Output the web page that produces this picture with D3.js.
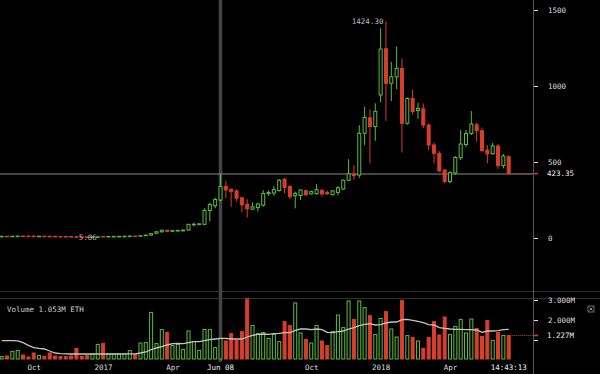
<!DOCTYPE html>
<html><head><meta charset="utf-8">
<script src="https://cdn.jsdelivr.net/npm/d3@7/dist/d3.min.js"></script>
<style>html,body{margin:0;padding:0;background:#000;overflow:hidden}</style>
</head><body><svg id="c" width="600" height="374"></svg>
<script>
// Weekly ETH candles (index 0 = first week shown)
const opens  = [10.9,11.4,11.1,12.0,12.8,12.6,12.4,12.0,12.1,11.5,11.0,10.6,10.2,9.7,8.9,7.9,7.8,7.4,7.6,10.5,9.8,10.6,10.7,11.3,11.6,12.9,12.6,15.3,19.2,31,41,51,44,48,47,52,87,89,90,181,212,250,340,320,310,264,222,190,200,216,292,296,312,386,338,278,280,311,290,292,314,300,285,300,322,380,421,414,689,790,733,941,1245,1018,1060,1115,755,918,838,850,743,612,557,447,372,428,528,615,688,745,706,578,555,605,476,535];
const highs  = [11.6,12.4,12.5,13.0,13.3,13.2,13.4,12.4,12.2,11.9,11.2,10.9,10.3,9.9,9.0,8.5,8.3,7.9,8.3,11.2,10.8,11.0,11.4,12.0,13.2,13.1,15.6,19.5,30,44,55,53,50,52,55,92,101,97,195,232,265,418,377,327,320,272,255,235,232,316,312,342,388,395,349,305,320,316,312,355,320,312,315,342,385,518,480,743,864,847,886,1380,1424.3,1158,1260,1180,925,978,890,886,754,627,570,454,440,540,710,710,835,758,728,612,625,618,553,545];
const lows   = [10.6,11.0,11.0,11.8,12.4,12.2,11.8,11.7,11.2,10.8,10.4,10.0,9.4,8.6,7.4,7.4,7.2,6.9,5.86,8.0,9.5,10.2,10.5,11.0,11.4,12.3,12.4,15.0,18,28,35,40,40,44,44,50,78,84,84,110,196,240,262,206,240,170,135,185,175,206,278,278,305,294,256,195,250,280,287,285,272,285,280,283,318,375,382,395,612,491,640,893,770,901,980,562,745,810,783,722,579,491,437,360,360,415,513,600,678,634,569,491,547,454,458,420];
const closes = [11.4,11.1,12.0,12.8,12.6,12.4,12.0,12.1,11.5,11.0,10.6,10.2,9.7,8.9,7.7,7.8,7.4,7.6,8.1,9.8,10.6,10.7,11.3,11.6,12.9,12.6,15.3,19.2,28.5,41,51,44,48,50,52,90,91,93,182,220,253,338,316,305,262,218,192,205,224,293,300,318,380,333,272,294,316,284,305,318,290,290,310,330,380,423,410,689,794,733,833,1243,1018,1061,1117,755,918,832,853,743,612,557,441,372,430,530,618,688,750,706,574,553,605,476,539,423.35];
// Weekly volume (millions) and its moving average
const volumes = [0.17,0.2,0.43,0.48,0.25,0.15,0.35,0.23,0.18,0.35,0.2,0.17,0.17,0.2,0.58,0.18,0.22,0.3,0.78,0.83,0.3,0.3,0.3,0.3,0.47,0.28,0.85,0.87,2.38,0.82,1.52,1.38,0.73,0.78,0.53,1.45,0.93,0.48,1.53,1.52,0.62,1.07,0.95,1.32,0.98,1.42,3.05,1.73,1.32,1.37,1.08,1.28,0.92,1.92,1.72,2.85,1.35,1.03,0.85,1.73,0.95,0.72,1.42,2.25,1.62,2.95,2.03,2.95,2.62,2.22,1.28,2.08,2.42,1.55,1.15,2.98,1.22,1.13,0.95,0.58,1.12,1.92,1.25,2.15,1.27,1.68,2.03,1.35,2.05,1.57,1.18,1.98,0.98,1.37,1.23,1.227];
const volumeMA = [0.97,0.97,0.97,0.96,0.87,0.73,0.62,0.58,0.55,0.45,0.35,0.32,0.31,0.3,0.3,0.3,0.3,0.3,0.3,0.3,0.3,0.3,0.3,0.31,0.31,0.31,0.35,0.4,0.52,0.6,0.67,0.75,0.82,0.83,0.82,0.87,0.92,0.92,0.97,1.02,1.05,1.08,1.08,1.05,1.05,1.05,1.15,1.23,1.28,1.3,1.28,1.32,1.33,1.37,1.37,1.48,1.55,1.55,1.52,1.55,1.52,1.38,1.37,1.42,1.45,1.55,1.62,1.72,1.78,1.82,1.75,1.77,1.85,1.9,1.9,2.02,2.03,1.98,1.93,1.87,1.77,1.75,1.62,1.58,1.55,1.53,1.53,1.52,1.52,1.5,1.38,1.45,1.45,1.47,1.52,1.53];
// Axis ticks
const xTickIdx = [6,19,32,58,71,84];
const xTickLabels = ["Oct","2017","Apr","Oct","2018","Apr"];
const priceTicks = [0,500,1000,1500];
const volTicks = [1,2,3];
const volTickLabels = ["","2.000M","3.000M"];
const crossIdx = 41, crossLabel = "Jun 08", crossPrice = 421;
const timeLabel = "14:43:13";
const volumeTitle = "Volume 1.053M ETH";
const lastVolLabel = "1.227M";

const W=600,H=374, AX=533;
const green="#5cbd3a", red="#d63f2c";
const FONT="'DejaVu Sans Mono', monospace";
const svg=d3.select("#c");
svg.append("rect").attr("width",W).attr("height",H).attr("fill","#000");

const n=opens.length;
const x=d3.scaleLinear().domain([0,n-1]).range([1.7,508.7]);
const y=d3.scaleLinear().domain([0,1500]).range([238,10]);
const yv=d3.scaleLinear().domain([0,3]).range([360,300]);
const idx=d3.range(n);
const up=i=>closes[i]>=opens[i];

// panel separators
svg.selectAll("line.sep").data([291.5,298.5]).join("line").attr("class","sep")
  .attr("x1",0).attr("x2",W).attr("y1",d=>d).attr("y2",d=>d)
  .attr("stroke","#303030").attr("stroke-width",1);

// crosshair
svg.append("line").attr("x1",x(crossIdx)).attr("x2",x(crossIdx)).attr("y1",0).attr("y2",362)
  .attr("stroke","#444").attr("stroke-width",3.5);
svg.append("line").attr("x1",0).attr("x2",AX).attr("y1",y(crossPrice)).attr("y2",y(crossPrice))
  .attr("stroke","#8a8a8a").attr("stroke-width",1.2);

// candles
const bw=3;
const cg=svg.append("g");
cg.selectAll("line.wick").data(idx).join("line").attr("class","wick")
  .attr("x1",i=>x(i)).attr("x2",i=>x(i)).attr("y1",i=>y(highs[i])).attr("y2",i=>y(lows[i]))
  .attr("stroke",i=>up(i)?green:red).attr("stroke-width",1);
cg.selectAll("rect.body").data(idx).join("rect").attr("class","body")
  .attr("x",i=>x(i)-bw/2).attr("width",bw)
  .attr("y",i=>Math.min(y(opens[i]),y(closes[i])))
  .attr("height",i=>Math.max(0.6,Math.abs(y(opens[i])-y(closes[i]))))
  .attr("fill",i=>up(i)?"#000":red).attr("stroke",i=>up(i)?green:red).attr("stroke-width",1);

// last price dotted line
svg.append("line").attr("x1",x(n-1)+3).attr("x2",AX).attr("y1",y(closes[n-1])).attr("y2",y(closes[n-1]))
  .attr("stroke",red).attr("stroke-width",1).attr("stroke-dasharray","1,1");

// high / low labels
const hiI=d3.maxIndex(highs), loI=d3.minIndex(lows);
svg.append("text").attr("x",x(hiI)-2.5).attr("y",y(highs[hiI])).attr("dy","0.35em")
  .attr("text-anchor","end").attr("fill","#bbb").attr("font-family",FONT).attr("font-size",7.5)
  .text(d3.format(".2f")(highs[hiI]));
svg.append("text").attr("x",x(loI)-1).attr("y",y(lows[loI])).attr("dy","0.35em")
  .attr("text-anchor","end").attr("fill","#aaa").attr("font-family",FONT).attr("font-size",7.5)
  .text(d3.format(".2f")(lows[loI]));

// volume bars
const vg=svg.append("g");
vg.selectAll("rect").data(idx).join("rect")
  .attr("x",i=>x(i)-bw/2).attr("width",bw)
  .attr("y",i=>yv(volumes[i])).attr("height",i=>yv(0)-1-yv(volumes[i]))
  .attr("fill",i=>up(i)?"#000":red).attr("stroke",i=>up(i)?green:red).attr("stroke-width",1);
svg.append("path").datum(idx)
  .attr("d",d3.line().x(i=>x(i)).y(i=>yv(volumeMA[i])))
  .attr("fill","none").attr("stroke","#c4c4c4").attr("stroke-width",1.3);
svg.append("line").attr("x1",x(n-1)+3).attr("x2",AX).attr("y1",yv(volumes[n-1])).attr("y2",yv(volumes[n-1]))
  .attr("stroke",red).attr("stroke-width",1).attr("stroke-dasharray","1,1");
svg.append("text").attr("x",7).attr("y",309).attr("dy","0.35em").attr("fill","#ccc")
  .attr("font-family",FONT).attr("font-size",7.5).text(volumeTitle);

// right axis line
svg.append("line").attr("x1",AX+0.5).attr("x2",AX+0.5).attr("y1",0).attr("y2",H)
  .attr("stroke","#555").attr("stroke-width",1);

function styleAxis(g){
  g.select(".domain").remove();
  g.selectAll(".tick line").attr("stroke","#ddd").attr("stroke-width",1);
  g.selectAll(".tick text").attr("fill","#ddd").attr("font-family",FONT).attr("font-size",7.5);
}
const pa=svg.append("g").attr("transform",`translate(${AX+1},0)`)
  .call(d3.axisRight(y).tickValues(priceTicks).tickSize(4).tickPadding(10).tickFormat(d3.format("d")));
styleAxis(pa);
const va=svg.append("g").attr("transform",`translate(${AX+1},0)`)
  .call(d3.axisRight(yv).tickValues(volTicks).tickSize(4).tickPadding(10).tickFormat((d,i)=>volTickLabels[i]));
styleAxis(va);
// last-value labels
[[y(closes[n-1]),d3.format(".2f")(closes[n-1])],[yv(volumes[n-1]),lastVolLabel]].forEach(([yy,t])=>{
  svg.append("line").attr("x1",AX+1).attr("x2",AX+5).attr("y1",yy).attr("y2",yy).attr("stroke",red).attr("stroke-width",1.5);
  svg.append("text").attr("x",AX+14).attr("y",yy).attr("dy","0.35em").attr("fill","#eee")
    .attr("font-family",FONT).attr("font-size",7.5).text(t);
});
// close icon
const ic=svg.append("g").attr("transform","translate(588,306)");
ic.append("rect").attr("width",6).attr("height",6).attr("fill","none").attr("stroke","#888").attr("stroke-width",0.8);
ic.append("path").attr("d","M1.5,1.5L4.5,4.5M4.5,1.5L1.5,4.5").attr("stroke","#aaa").attr("stroke-width",0.8);

// bottom axis
const xa=svg.append("g").attr("transform","translate(0,362)")
  .call(d3.axisBottom(x).tickValues(xTickIdx).tickSize(0).tickPadding(3).tickFormat((d,i)=>xTickLabels[i]));
styleAxis(xa);
[[crossIdx,crossLabel],[n-1,timeLabel]].forEach(([i,t])=>{
  svg.append("text").attr("x",x(i)).attr("y",365).attr("dy","0.71em").attr("text-anchor","middle")
    .attr("fill","#eee").attr("font-family",FONT).attr("font-size",7.5).text(t);
});
</script></body></html>
